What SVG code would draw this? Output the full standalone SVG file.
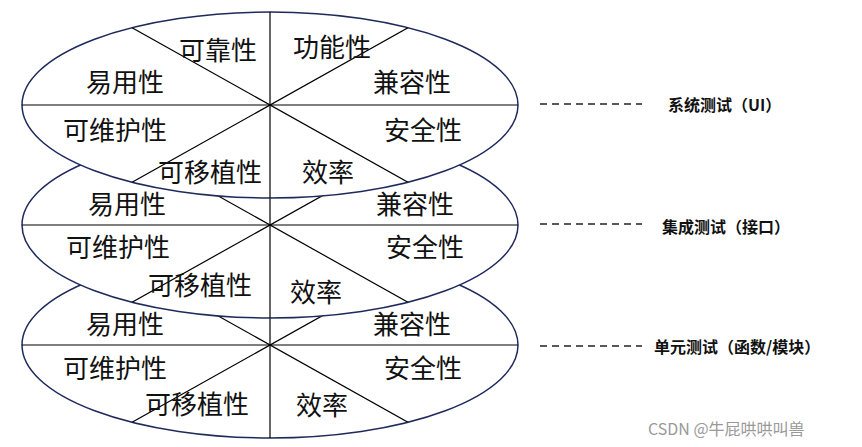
<svg xmlns="http://www.w3.org/2000/svg" width="862" height="447" viewBox="0 0 862 447">
<style>
.e{fill:#fff;stroke:#1f2a5c;stroke-width:1.5}
.l{stroke:#000;stroke-width:1.2}
.t{font-family:"Noto Sans CJK SC",sans-serif;font-size:26px;fill:#111;text-anchor:middle;dominant-baseline:central}
.r{font-family:"Noto Sans CJK SC",sans-serif;font-size:16px;font-weight:bold;fill:#111;dominant-baseline:central}
.d{stroke:#222;stroke-width:1.3;stroke-dasharray:7,5}
</style>
<defs>
<clipPath id="c3"><ellipse cx="270" cy="345" rx="248" ry="93"/></clipPath>
<clipPath id="c2"><ellipse cx="270" cy="225" rx="248" ry="93"/></clipPath>
<clipPath id="c1"><ellipse cx="270" cy="105" rx="248" ry="93"/></clipPath>
</defs>
<g id="layer3">
<ellipse class="e" cx="270" cy="345" rx="248" ry="93"/>
<g clip-path="url(#c3)"><line class="l" x1="20" y1="345" x2="520" y2="345"/><line class="l" x1="270" y1="250" x2="270" y2="440"/><line class="l" x1="20" y1="205" x2="520" y2="485"/><line class="l" x1="20" y1="485" x2="520" y2="205"/></g>
<text class="t" x="125" y="322">易用性</text><text class="t" x="412" y="322">兼容性</text><text class="t" x="115" y="366">可维护性</text><text class="t" x="423" y="366">安全性</text><text class="t" x="197" y="402">可移植性</text><text class="t" x="322" y="403">效率</text>
</g>
<g id="layer2">
<ellipse class="e" cx="270" cy="225" rx="248" ry="93"/>
<g clip-path="url(#c2)"><line class="l" x1="20" y1="225" x2="520" y2="225"/><line class="l" x1="270" y1="130" x2="270" y2="320"/><line class="l" x1="20" y1="85" x2="520" y2="365"/><line class="l" x1="20" y1="365" x2="520" y2="85"/></g>
<text class="t" x="127" y="202">易用性</text><text class="t" x="415" y="202">兼容性</text><text class="t" x="118" y="245">可维护性</text><text class="t" x="425" y="245">安全性</text><text class="t" x="200" y="283">可移植性</text><text class="t" x="316" y="290">效率</text>
</g>
<g id="layer1">
<ellipse class="e" cx="270" cy="105" rx="248" ry="93"/>
<g clip-path="url(#c1)"><line class="l" x1="20" y1="105" x2="520" y2="105"/><line class="l" x1="270" y1="10" x2="270" y2="200"/><line class="l" x1="20" y1="-35" x2="520" y2="245"/><line class="l" x1="20" y1="245" x2="520" y2="-35"/></g>
<text class="t" x="218" y="48">可靠性</text><text class="t" x="332" y="45">功能性</text><text class="t" x="125" y="80">易用性</text><text class="t" x="412" y="80">兼容性</text><text class="t" x="115" y="128">可维护性</text><text class="t" x="423" y="128">安全性</text><text class="t" x="210" y="170">可移植性</text><text class="t" x="328" y="170">效率</text>
</g>
<g id="connectors">
<line class="d" x1="540" y1="104" x2="642" y2="104"/>
<line class="d" x1="540" y1="224" x2="642" y2="224"/>
<line class="d" x1="540" y1="346" x2="642" y2="346"/>
</g>
<g id="labels">
<text class="r" x="668" y="104">系统测试（UI）</text>
<text class="r" x="662" y="226">集成测试（接口）</text>
<text class="r" x="654" y="346">单元测试（函数/模块）</text>
</g>
<text x="648" y="428" style="font-family:'Noto Sans CJK SC',sans-serif;font-size:16px;fill:#999;dominant-baseline:central">CSDN @牛屁哄哄叫兽</text>
</svg>
